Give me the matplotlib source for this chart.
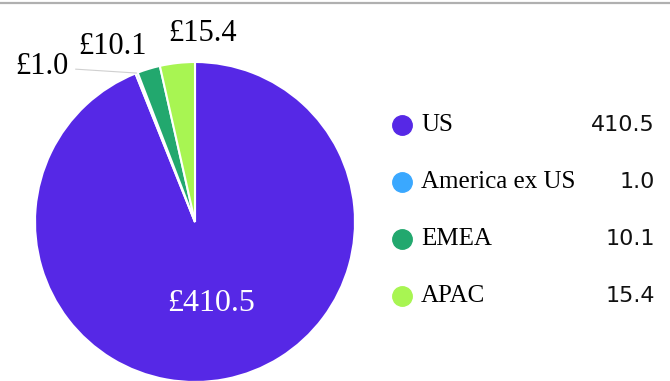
# pie chart: revenue by region
import numpy as np
import matplotlib.pyplot as plt
from matplotlib.lines import Line2D

regions = ['US', 'America ex US', 'EMEA', 'APAC']
values = [410.5, 1.0, 10.1, 15.4]
colors = ['#5628e6', '#3aa8ff', '#22a86e', '#a8f552']

W, H = 670, 381
fig = plt.figure(figsize=(W / 100, H / 100), dpi=100)

# top rule
fig.add_artist(Line2D([0, 1], [1 - 3 / H, 1 - 3 / H], color='#b0b0b0', lw=1.6,
                      transform=fig.transFigure))

# pie: centre (195, 222) px, radius 160 px
cx, cy, r = 195, 222, 160
ax = fig.add_axes([(cx - r) / W, (H - cy - r) / H, 2 * r / W, 2 * r / H])
wedges, _ = ax.pie(values, colors=colors, startangle=90, counterclock=False,
                   wedgeprops=dict(edgecolor='white', linewidth=1.5))
ax.set_xlim(-1, 1)
ax.set_ylim(-1, 1)
ax.set_aspect('equal')
ax.axis('off')

serif = 'Liberation Serif'

# label inside the big slice
w = wedges[0]
mid = np.deg2rad((w.theta1 + w.theta2) / 2)
ax.text(0.52 * np.cos(mid), 0.52 * np.sin(mid), f'£{values[0]:.1f}',
        color='white', fontsize=23, family=serif, ha='center', va='center')

# outside labels, nudged apart like the original
label_pos = [None, (42, 67), (113, 47), (203, 33)]  # pixel positions of text
for i in range(1, len(values)):
    w = wedges[i]
    mid = np.deg2rad((w.theta1 + w.theta2) / 2)
    px, py = label_pos[i]
    xt = (px - cx) / r
    yt = (cy - py) / r
    if i == 1:
        ax.annotate(f'£{values[i]:.1f}', xy=(np.cos(mid), np.sin(mid)),
                    xytext=(xt, yt), fontsize=22, family=serif,
                    ha='center', va='center', annotation_clip=False,
                    arrowprops=dict(arrowstyle='-', color='#d0d0d0', lw=0.8,
                                    shrinkA=3, shrinkB=0))
    else:
        ax.text(xt, yt, f'£{values[i]:.1f}', fontsize=22, family=serif,
                ha='center', va='center', clip_on=False)

# legend with values
leg_y = [125, 182, 239, 296]
for i, name in enumerate(regions):
    y = 1 - leg_y[i] / H
    fig.add_artist(Line2D([402 / W], [y], marker='o', markersize=14,
                          color=colors[i], lw=0, transform=fig.transFigure))
    fig.text(421 / W, y, name, fontsize=18, family=serif, ha='left', va='center')
    fig.text(655 / W, y, f'{values[i]:.1f}', fontsize=16, family='DejaVu Sans',
             ha='right', va='center', color='#111111')

plt.savefig('out.png', dpi=100)
